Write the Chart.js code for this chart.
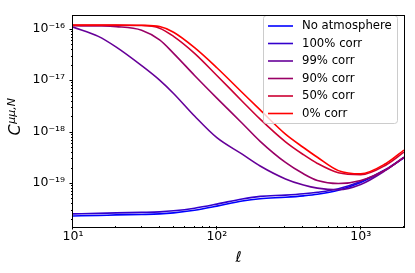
<!DOCTYPE html>
<html><head><meta charset="utf-8">
<script src="https://cdn.jsdelivr.net/npm/chart.js@4.4.1/dist/chart.umd.min.js"></script>
<style>html,body{margin:0;padding:0;background:#fff;}#wrap{width:415px;height:273px;}</style>
</head><body><div id="wrap"><canvas id="c" width="415" height="273"></canvas></div>
<script>
// multipole values
const ell = [10, 15, 20, 30, 40, 50, 70, 100, 150, 200, 300, 400, 500, 700, 1000, 1500, 2000];
// noise spectra C^{mu mu, N}
const noAtmosphere = [2.29e-20, 2.34e-20, 2.40e-20, 2.45e-20, 2.51e-20, 2.63e-20, 2.95e-20, 3.55e-20, 4.47e-20, 4.95e-20, 5.28e-20, 5.62e-20, 6.03e-20, 7.24e-20, 1.02e-19, 1.82e-19, 3.09e-19];
const corr100 = [2.51e-20, 2.57e-20, 2.63e-20, 2.69e-20, 2.75e-20, 2.88e-20, 3.24e-20, 3.89e-20, 4.90e-20, 5.50e-20, 5.82e-20, 6.17e-20, 6.61e-20, 7.76e-20, 1.07e-19, 1.86e-19, 3.16e-19];
const corr99 = [1.07e-16, 7.08e-17, 4.37e-17, 1.91e-17, 1.00e-17, 5.50e-18, 2.00e-18, 7.59e-19, 3.63e-19, 2.14e-19, 1.20e-19, 9.12e-20, 7.94e-20, 7.41e-20, 9.33e-20, 1.78e-19, 3.16e-19];
const corr90 = [1.135e-16, 1.127e-16, 1.096e-16, 9.33e-17, 6.03e-17, 3.31e-17, 1.23e-17, 4.47e-18, 1.45e-18, 6.46e-19, 2.51e-19, 1.51e-19, 1.12e-19, 9.77e-20, 1.12e-19, 1.82e-19, 3.16e-19];
const corr50 = [1.161e-16, 1.161e-16, 1.161e-16, 1.148e-16, 1.023e-16, 7.08e-17, 3.31e-17, 1.23e-17, 3.89e-18, 1.74e-18, 6.31e-19, 3.55e-19, 2.40e-19, 1.58e-19, 1.45e-19, 2.24e-19, 3.98e-19];
const corr0 = [1.175e-16, 1.175e-16, 1.175e-16, 1.161e-16, 1.096e-16, 8.51e-17, 4.27e-17, 1.74e-17, 5.75e-18, 2.63e-18, 8.91e-19, 4.90e-19, 3.16e-19, 1.74e-19, 1.51e-19, 2.40e-19, 4.37e-19];

const seriesLabels = ['No atmosphere', '100% corr', '99% corr', '90% corr', '50% corr', '0% corr'];
const seriesValues = [noAtmosphere, corr100, corr99, corr90, corr50, corr0];
const seriesColors = ['#0000ff', '#3300cc', '#660099', '#990066', '#cc0033', '#ff0000'];

const xMajor = [10, 100, 1000];
const xMajorLabels = ['10¹', '10²', '10³'];
const yMajor = [1e-19, 1e-18, 1e-17, 1e-16];
const yMajorLabels = ['10⁻¹⁹', '10⁻¹⁸', '10⁻¹⁷', '10⁻¹⁶'];

const xMin = 10, xMax = 2000, yMin = 1.46e-20, yMax = 1.80e-16;
const FONT = '"DejaVu Sans", sans-serif';

function logTicks(min, max) {
  const out = [];
  for (let e = Math.floor(Math.log10(min)); e <= Math.ceil(Math.log10(max)); e++) {
    for (let m = 1; m <= 9; m++) {
      const v = m * Math.pow(10, e);
      if (v >= min * (1 - 1e-9) && v <= max * (1 + 1e-9)) out.push(v);
    }
  }
  return out;
}
function majorLabel(v, majors, labels) {
  for (let i = 0; i < majors.length; i++) {
    if (Math.abs(Math.log10(v) - Math.log10(majors[i])) < 1e-6) return labels[i];
  }
  return '';
}

const datasets = seriesValues.map((vals, i) => ({
  label: seriesLabels[i],
  data: ell.map((l, j) => ({ x: l, y: vals[j] })),
  borderColor: seriesColors[i],
  backgroundColor: seriesColors[i],
  borderWidth: 1.6,
  pointRadius: 0,
  fill: false,
  cubicInterpolationMode: 'monotone',
  order: seriesValues.length - 1 - i
}));

const decorPlugin = {
  id: 'decor',
  afterDraw(chart) {
    const ctx = chart.ctx, a = chart.chartArea;
    ctx.save();
    ctx.strokeStyle = '#000';
    ctx.lineWidth = 1;
    const xs = chart.scales.x, ys = chart.scales.y;
    xs.ticks.forEach(t => {
      const major = majorLabel(t.value, xMajor, xMajorLabels) !== '';
      const len = major ? 3.5 : 2;
      const px = Math.round(xs.getPixelForValue(t.value)) - 0.5;
      ctx.beginPath(); ctx.moveTo(px, a.bottom); ctx.lineTo(px, a.bottom + len); ctx.stroke();
    });
    ys.ticks.forEach(t => {
      const major = majorLabel(t.value, yMajor, yMajorLabels) !== '';
      const len = major ? 3.5 : 2;
      const py = Math.round(ys.getPixelForValue(t.value)) + 0.5;
      ctx.beginPath(); ctx.moveTo(a.left, py); ctx.lineTo(a.left - len, py); ctx.stroke();
    });
    // legend
    const lx = 263.5, ly = 15.5, lw = 134, lh = 108, r = 3;
    ctx.beginPath();
    ctx.moveTo(lx + r, ly); ctx.lineTo(lx + lw - r, ly); ctx.arcTo(lx + lw, ly, lx + lw, ly + r, r);
    ctx.lineTo(lx + lw, ly + lh - r); ctx.arcTo(lx + lw, ly + lh, lx + lw - r, ly + lh, r);
    ctx.lineTo(lx + r, ly + lh); ctx.arcTo(lx, ly + lh, lx, ly + lh - r, r);
    ctx.lineTo(lx, ly + r); ctx.arcTo(lx, ly, lx + r, ly, r); ctx.closePath();
    ctx.fillStyle = 'rgba(255,255,255,0.8)'; ctx.fill();
    ctx.strokeStyle = '#cccccc'; ctx.stroke();
    chart.data.datasets.forEach((ds, i) => {
      const y = 26 + i * 17.5;
      ctx.strokeStyle = ds.borderColor; ctx.lineWidth = 1.6;
      ctx.beginPath(); ctx.moveTo(268, y); ctx.lineTo(293, y); ctx.stroke();
      ctx.fillStyle = '#000'; ctx.font = '11.7px ' + FONT;
      ctx.textAlign = 'left'; ctx.textBaseline = 'middle';
      ctx.fillText(ds.label, 302, y);
    });
    // frame
    ctx.strokeStyle = '#000'; ctx.lineWidth = 1;
    ctx.strokeRect(Math.round(a.left) - 0.5, Math.round(a.top) - 0.5, Math.round(a.right - a.left) + 1, Math.round(a.bottom - a.top) + 1);
    // y-axis title C^{mu mu, N}
    ctx.save();
    ctx.translate(20, 117);
    ctx.rotate(-Math.PI / 2);
    ctx.fillStyle = '#000';
    ctx.textBaseline = 'alphabetic'; ctx.textAlign = 'left';
    const fC = 'italic 16px ' + FONT, fS = 'italic 11px ' + FONT;
    ctx.font = fC; const wC = ctx.measureText('C').width;
    ctx.font = fS; const wS = ctx.measureText('μμ,N').width;
    const x0 = -(wC + wS) / 2;
    ctx.font = fC; ctx.fillText('C', x0, 0);
    ctx.font = fS; ctx.fillText('μμ,N', x0 + wC + 0.5, -5);
    ctx.restore();
    ctx.restore();
  }
};

new Chart(document.getElementById('c'), {
  type: 'line',
  data: { datasets },
  options: {
    responsive: false,
    devicePixelRatio: 1,
    animation: false,
    layout: { padding: { left: 0, right: 11, top: 11, bottom: 0 } },
    plugins: { legend: { display: false }, tooltip: { enabled: false }, title: { display: false } },
    scales: {
      x: {
        type: 'logarithmic', position: 'bottom', min: xMin, max: xMax,
        grid: { display: false, drawTicks: false }, border: { display: false },
        afterBuildTicks: (s) => { s.ticks = logTicks(xMin, xMax).map(v => ({ value: v })); },
        afterFit: (s) => { s.height = 47; },
        ticks: {
          autoSkip: false, maxRotation: 0, padding: 3, color: '#000',
          font: { family: FONT, size: 12.5 },
          callback: (v) => majorLabel(v, xMajor, xMajorLabels)
        },
        title: { display: true, text: 'ℓ', color: '#000', font: { family: FONT, size: 15, style: 'italic' }, padding: { top: 0, bottom: 6 } }
      },
      y: {
        type: 'logarithmic', position: 'left', min: yMin, max: yMax,
        grid: { display: false, drawTicks: false }, border: { display: false },
        afterBuildTicks: (s) => { s.ticks = logTicks(yMin, yMax).map(v => ({ value: v })); },
        afterFit: (s) => { s.width = 73; },
        ticks: {
          autoSkip: false, padding: 8, color: '#000',
          font: { family: FONT, size: 12.5 },
          callback: (v) => majorLabel(v, yMajor, yMajorLabels)
        }
      }
    }
  },
  plugins: [decorPlugin]
});
</script></body></html>
